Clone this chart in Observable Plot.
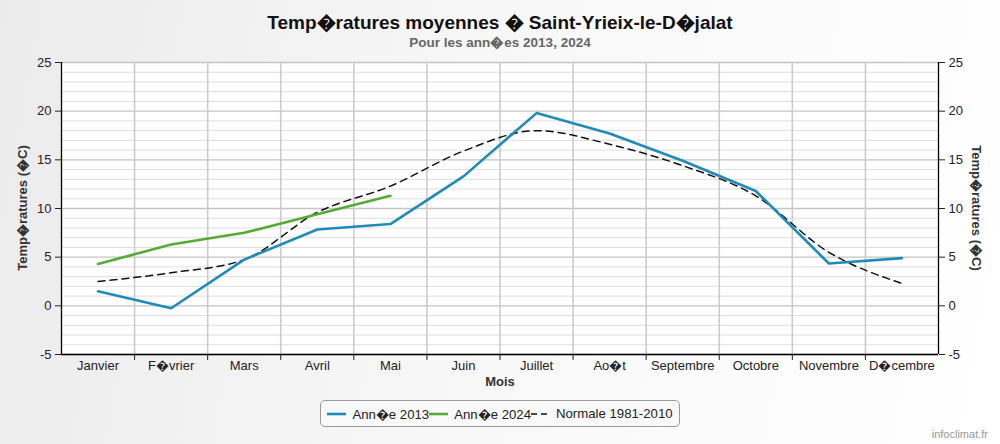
<!DOCTYPE html>
<html>
<head>
<meta charset="utf-8">
<script src="https://cdn.jsdelivr.net/npm/d3@7"></script>
<script src="https://cdn.jsdelivr.net/npm/@observablehq/plot@0.6"></script>
<style>
  html, body { margin: 0; padding: 0; }
  body { width: 1000px; height: 444px; overflow: hidden; position: relative;
         font-family: "Liberation Sans", Arial, sans-serif;
         background: linear-gradient(100deg, #ebebeb 0%, #f7f7f7 45%, #ffffff 100%); }
  #chart { position: absolute; left: 0; top: 0; }
  .abs { position: absolute; white-space: nowrap; }
  #title { left: 0; width: 1000px; top: 9px; text-align: center; font-size: 19px; font-weight: bold; color: #111; }
  #subtitle { left: 0; width: 1000px; top: 33px; text-align: center; font-size: 13.5px; font-weight: bold; color: #666; }
  .ylab { font-size: 13px; font-weight: bold; color: #333; }
  #ylabL { left: 22px; top: 208px; transform: translate(-50%, -50%) rotate(-90deg); }
  #ylabR { left: 977px; top: 208px; transform: translate(-50%, -50%) rotate(90deg); }
  #xlab { left: 0; width: 1000px; top: 374px; text-align: center; font-size: 13px; font-weight: bold; color: #333; }
  #legend { left: 320px; top: 400px; width: 358px; height: 25px; border: 1px solid #999; border-radius: 5px;
            background: #f9f9f9; display: flex; align-items: center; justify-content: center; font-size: 13.2px; color: #222; }
  #legend .item { display: flex; align-items: center; }
  #legend svg { margin-right: 6px; }
  #credit { right: 12px; top: 428px; font-size: 11px; color: #999; }
</style>
</head>
<body>
<div id="chart"></div>
<div class="abs" id="title"></div>
<div class="abs" id="subtitle"></div>
<div class="abs ylab" id="ylabL"></div>
<div class="abs ylab" id="ylabR"></div>
<div class="abs" id="xlab"></div>
<div class="abs" id="legend"></div>
<div class="abs" id="credit">infoclimat.fr</div>
<script>
const R = "\uFFFD";
const months = ["Janvier", "F" + R + "vrier", "Mars", "Avril", "Mai", "Juin", "Juillet", "Ao" + R + "t", "Septembre", "Octobre", "Novembre", "D" + R + "cembre"];
const t2013 = [1.5, -0.25, 4.75, 7.85, 8.4, 13.3, 19.8, 17.7, 14.9, 11.8, 4.35, 4.9];
const t2024 = [4.3, 6.3, 7.5, 9.4, 11.3];
const normale = [2.5, 3.4, 4.75, 9.6, 12.3, 15.9, 18.0, 16.6, 14.4, 11.3, 5.5, 2.3];
const yTicks = [-5, 0, 5, 10, 15, 20, 25];
const seriesNames = ["Ann" + R + "e 2013", "Ann" + R + "e 2024", "Normale 1981-2010"];
const colors = ["#1e8bb8", "#55ab38", "#111111"];

document.getElementById("title").textContent = "Temp" + R + "ratures moyennes " + R + " Saint-Yrieix-le-D" + R + "jalat";
document.getElementById("subtitle").textContent = "Pour les ann" + R + "es 2013, 2024";
document.getElementById("ylabL").textContent = "Temp" + R + "ratures (" + R + "C)";
document.getElementById("ylabR").textContent = "Temp" + R + "ratures (" + R + "C)";
document.getElementById("xlab").textContent = "Mois";

const d13 = t2013.map((v, i) => ({i, v}));
const d24 = t2024.map((v, i) => ({i, v}));
const dN = normale.map((v, i) => ({i, v}));
const idx = d3.range(months.length);
const edges = d3.range(months.length - 1).map(i => i + 0.5);
const outer = [-0.5, months.length - 0.5];
const minor = d3.range(-5, 26).filter(v => v % 5 !== 0);
const fmt = d => String(d);

const plot = Plot.plot({
  width: 1000,
  height: 395,
  marginLeft: 61,
  marginRight: 62,
  marginTop: 62,
  marginBottom: 41,
  style: {fontFamily: "Liberation Sans, Arial, sans-serif", fontSize: "13px", color: "#222", background: "transparent", overflow: "visible"},
  x: {type: "linear", domain: outer, label: null},
  y: {domain: [-5, 25], label: null},
  marks: [
    Plot.frame({fill: "white", stroke: "none"}),
    Plot.ruleY(minor, {stroke: "#dedede", strokeWidth: 1}),
    Plot.ruleY(yTicks, {stroke: "#c4c4c4", strokeWidth: 1.3}),
    Plot.ruleX(edges, {stroke: "#cccccc", strokeWidth: 1.6}),
    Plot.ruleX(outer, {stroke: "#000", strokeWidth: 1.3}),
    Plot.ruleY([-5], {stroke: "#000", strokeWidth: 1.3}),
    Plot.axisY({anchor: "left", ticks: yTicks, tickFormat: fmt, tickSize: 6, tickPadding: 4, label: null, fontSize: 13}),
    Plot.axisY({anchor: "right", ticks: yTicks, tickFormat: fmt, tickSize: 6, tickPadding: 4, label: null, fontSize: 13}),
    Plot.axisX({ticks: idx, tickFormat: i => months[i], tickSize: 0, tickPadding: 6, label: null, fontSize: 13}),
    Plot.axisX({ticks: edges, tickFormat: () => "", tickSize: 6, label: null}),
    Plot.line(dN, {x: "i", y: "v", stroke: colors[2], strokeWidth: 1.5, strokeDasharray: "7,5", curve: "monotone-x"}),
    Plot.line(d13, {x: "i", y: "v", stroke: colors[0], strokeWidth: 2.6}),
    Plot.line(d24, {x: "i", y: "v", stroke: colors[1], strokeWidth: 2.6})
  ]
});
document.getElementById("chart").appendChild(plot);

const legend = document.getElementById("legend");
seriesNames.forEach((name, k) => {
  const item = document.createElement("div");
  item.className = "item";
  const dash = k === 2 ? ' stroke-dasharray="6,4"' : '';
  const sw = k === 2 ? 1.5 : 2.6;
  item.innerHTML = `<svg width="19" height="10"><line x1="0" x2="19" y1="5" y2="5" stroke="${colors[k]}" stroke-width="${sw}"${dash}/></svg><span>${name}</span>`;
  legend.appendChild(item);
});
</script>
</body>
</html>
